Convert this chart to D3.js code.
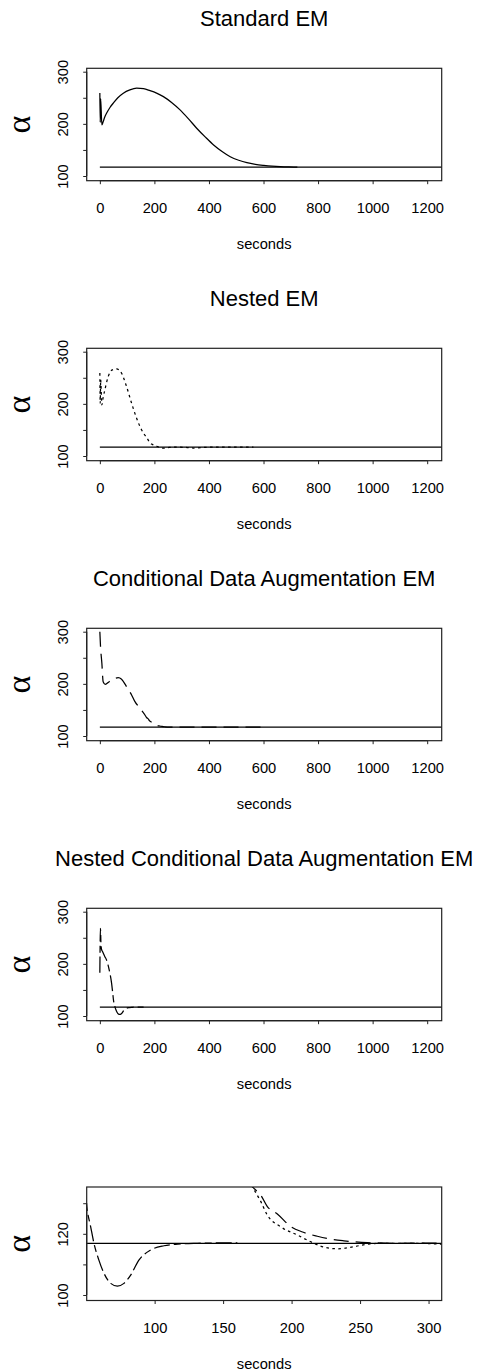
<!DOCTYPE html>
<html><head><meta charset="utf-8">
<script src="https://cdn.jsdelivr.net/npm/d3@7"></script>
<style>html,body{margin:0;padding:0;background:#fff;}svg{display:block;}</style>
</head><body>
<script>
// ---- data ----
const panelTitles = ["Standard EM", "Nested EM", "Conditional Data Augmentation EM", "Nested Conditional Data Augmentation EM", ""];
const xTicksWide = [0, 200, 400, 600, 800, 1000, 1200];
const yTicksWide = [100, 150, 200, 250, 300];
const yLabelsWide = [100, 200, 300];
const xTicksZoom = [100, 150, 200, 250, 300];
const yTicksZoom = [100, 110, 120, 130];
const yLabelsZoom = [100, 120];
const alphaTrue = 116.85;
const trueLineT = [0, 1400];

const tStd = [0, 1.5, 3, 7.4, 12, 18.4, 24.6, 37.7, 49, 66, 86, 110, 135, 160, 184, 208, 233, 263, 294, 325, 355, 386, 417, 448, 478, 509, 539, 570, 601, 631, 662, 693, 724];
const aStd = [259, 203, 248, 198, 204, 213.8, 220.3, 231.8, 239.5, 250, 258.7, 265, 268.3, 267.5, 263.7, 259, 252.2, 241, 226.7, 209.5, 191.6, 175, 159.5, 147, 137, 130.2, 125.5, 122.4, 120.4, 118.9, 117.9, 117.4, 117.2];

const tNest = [0, 1.5, 3, 7.4, 12, 18.4, 30.6, 45.3, 61.3, 79.7, 98, 116.4, 134.8, 153.2, 171.5, 177, 182.3, 192, 204.2, 216.3, 221.2, 233.4, 245.5, 255.3, 267.4, 290, 320, 343, 370, 400, 480, 563];
const aNest = [259, 201, 246, 198, 212, 226.7, 252.2, 265.1, 267, 258.7, 233, 201.2, 172.4, 149.9, 135.2, 131, 126.1, 122.3, 119.6, 116.9, 116.0, 115.1, 115.8, 116.6, 116.9, 116.9, 116.3, 115.3, 116.2, 116.8, 116.9, 116.9];

const tCDA = [0, 2.5, 7.4, 12.1, 20, 34.2, 49, 67.4, 79.7, 98, 116.4, 128.7, 147, 165.4, 171.3, 177.4, 182.3, 189.6, 199.3, 208, 218.8, 228, 238.2, 255.3, 279.6, 320, 400, 500, 590];
const aCDA = [300, 271.4, 239.5, 204.2, 199, 204.2, 208.8, 211.9, 208.8, 194.6, 178.7, 165.8, 153.2, 140.3, 135.5, 132.7, 128.9, 126.5, 122.4, 120.6, 119.2, 118.3, 117.7, 117.1, 116.9, 117.0, 116.9, 117.0, 116.9];

const tNCDA = [0, 0.6, 2.2, 4, 6, 9.8, 18.4, 24.5, 34.3, 43, 47, 50.4, 53.3, 55.7, 59.3, 63, 67.9, 72.8, 77.6, 82.5, 88.5, 97.1, 106.8, 119, 131.2, 145, 160.4];
const aNCDA = [183, 217, 268, 240, 228, 223.5, 213.8, 207.5, 188.3, 163, 145, 128.9, 122.3, 116.9, 111.4, 107.1, 103.8, 102.9, 103.8, 106.5, 111.4, 114.7, 116.1, 116.7, 116.9, 117.0, 117.0];

// ---- layout ----
const W = 479, H = 1372;
const svg = d3.select("body").append("svg").attr("width", W).attr("height", H);
const font = "'Liberation Sans', Arial, Helvetica, sans-serif";
const boxL = 86.7, boxR = 441.7;
const cx = (boxL + boxR) / 2;

const series = [
  {t: tStd, a: aStd, dash: null},
  {t: tNest, a: aNest, dash: "2.6,3.4"},
  {t: tCDA, a: aCDA, dash: "15,7"},
  {t: tNCDA, a: aNCDA, dash: "16,4,7,4"}
];

function panel(k, cfg) {
  const off = k * 280;
  const top = cfg.top + off, bot = cfg.bot + off;
  const g = svg.append("g");
  const x = d3.scaleLinear().domain(cfg.xd).range([boxL, boxR]);
  const y = d3.scaleLinear().domain(cfg.yd).range([bot, top]);

  const clipId = "clip" + k;
  svg.append("clipPath").attr("id", clipId).append("rect")
    .attr("x", boxL).attr("y", top).attr("width", boxR - boxL).attr("height", bot - top);

  const plot = g.append("g").attr("clip-path", `url(#${clipId})`);
  plot.append("path")
    .attr("d", d3.line().x(d => x(d)).y(() => y(alphaTrue))(trueLineT))
    .attr("fill", "none").attr("stroke", "#000").attr("stroke-width", 1.2);

  cfg.series.forEach(s => {
    const pts = s.t.map((t, i) => [t, s.a[i]]);
    plot.append("path")
      .attr("d", d3.line().x(d => x(d[0])).y(d => y(d[1])).curve(d3.curveMonotoneX)(pts))
      .attr("fill", "none").attr("stroke", "#000").attr("stroke-width", 1.25)
      .attr("stroke-dasharray", s.dash);
  });

  g.append("rect").attr("x", boxL).attr("y", top).attr("width", boxR - boxL).attr("height", bot - top)
    .attr("fill", "none").attr("stroke", "#222").attr("stroke-width", 1.2);

  const xa = g.append("g").attr("transform", `translate(0,${bot})`)
    .call(d3.axisBottom(x).tickValues(cfg.xt).tickSize(3.5).tickSizeOuter(0).tickFormat(d3.format("d")));
  xa.select(".domain").attr("d", `M${x(cfg.xt[0])},0H${x(cfg.xt[cfg.xt.length-1])}`).attr("stroke", "#222").attr("stroke-width", 1.2);
  xa.selectAll(".tick line").attr("stroke", "#222");
  xa.selectAll("text").attr("font-family", font).attr("font-size", 14.7).attr("fill", "#000")
    .attr("dy", null).attr("y", 213.3 - 180.7);

  const ya = g.append("g").attr("transform", `translate(${boxL},0)`)
    .call(d3.axisLeft(y).tickValues(cfg.yt).tickSize(3.5).tickSizeOuter(0)
      .tickFormat(d => cfg.yl.includes(d) ? String(d) : ""));
  ya.select(".domain").attr("d", `M0,${y(cfg.yt[0])}V${y(cfg.yt[cfg.yt.length-1])}`).attr("stroke", "#222").attr("stroke-width", 1.2);
  ya.selectAll(".tick line").attr("stroke", "#222");
  ya.selectAll("text").attr("font-family", font).attr("font-size", 14.7).attr("fill", "#000")
    .attr("x", null).attr("dy", null).attr("text-anchor", "middle")
    .attr("transform", `translate(${68.3 - boxL},0) rotate(-90)`);

  if (cfg.title) {
    g.append("text").attr("x", cx).attr("y", 26 + off).attr("text-anchor", "middle")
      .attr("font-family", font).attr("font-size", 22).attr("fill", "#000").text(cfg.title);
  }
  g.append("text").attr("x", cx).attr("y", 249 + off).attr("text-anchor", "middle")
    .attr("font-family", font).attr("font-size", 14.7).attr("fill", "#000").text("seconds");
  g.append("text").attr("transform", `translate(29.5,${(top + bot) / 2}) rotate(-90)`)
    .attr("text-anchor", "middle").attr("font-family", "'Liberation Serif','DejaVu Serif',serif")
    .attr("font-size", 34).attr("fill", "#000").text("\u03B1");
}

for (let k = 0; k < 4; k++) {
  panel(k, {top: 68.3, bot: 180.7, xd: [-48.2, 1253.2], yd: [91, 306.5],
    xt: xTicksWide, yt: yTicksWide, yl: yLabelsWide, title: panelTitles[k], series: [series[k]]});
}
panel(4, {top: 67, bot: 180.5, xd: [50.4, 309.6], yd: [98.2, 135.3],
  xt: xTicksZoom, yt: yTicksZoom, yl: yLabelsZoom, title: panelTitles[4], series: [series[1], series[2], series[3], series[0]]});
</script>
</body></html>
